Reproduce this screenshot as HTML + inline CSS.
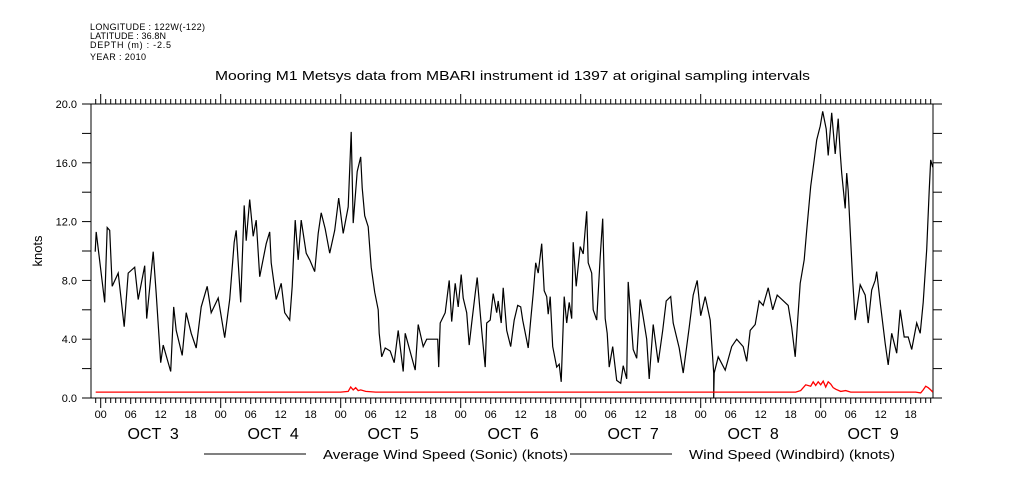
<!DOCTYPE html>
<html><head><meta charset="utf-8"><style>
html,body{margin:0;padding:0;background:#fff;}
svg{display:block;font-family:"Liberation Sans",sans-serif;}
</style></head><body>
<svg id="chart" width="1009" height="504" viewBox="0 0 1009 504" xmlns="http://www.w3.org/2000/svg">
<rect width="1009" height="504" fill="#fff"/>
<g font-size="9" fill="#000">
<text x="90" y="30" textLength="115">LONGITUDE : 122W(-122)</text>
<text x="90" y="39" textLength="76">LATITUDE : 36.8N</text>
<text x="90" y="48" textLength="81">DEPTH (m) : -2.5</text>
<text x="90" y="60" textLength="56">YEAR : 2010</text>
</g>
<text x="215" y="80" textLength="595" lengthAdjust="spacingAndGlyphs" font-size="13">Mooring M1 Metsys data from MBARI instrument id 1397 at original sampling intervals</text>
<text transform="translate(42,251) rotate(-90)" text-anchor="middle" font-size="13">knots</text>
<g id="axes"></g>
<g id="series"></g>
<g font-size="13">
<line x1="204" y1="454" x2="306" y2="454" stroke="#000"/>
<text x="323" y="459" textLength="245" lengthAdjust="spacingAndGlyphs">Average Wind Speed (Sonic) (knots)</text>
<line x1="570" y1="454" x2="672" y2="454" stroke="#000"/>
<text x="689" y="459" textLength="206" lengthAdjust="spacingAndGlyphs">Wind Speed (Windbird) (knots)</text>
</g>
</svg>
<script>
const sonicHours=[-1.1,-0.9,0.8,1.3,1.8,2.3,3.5,4.7,5.5,6.8,7.5,8.8,9.2,10.5,11.1,12.0,12.5,14.0,14.6,15.1,16.3,17.1,18.1,19.1,20.1,21.3,22.1,23.5,24.8,25.8,26.7,27.1,28.0,28.7,29.1,29.8,30.5,31.1,31.8,33.1,33.8,34.1,35.1,36.1,36.8,37.8,38.3,38.9,39.5,40.1,41.1,41.8,42.8,43.5,44.1,44.9,45.8,46.8,47.6,48.5,49.5,50.1,50.5,51.3,52.0,52.3,52.8,53.5,54.1,54.8,55.5,55.7,56.2,56.9,57.9,58.7,59.5,60.5,60.9,62.9,63.5,64.5,65.2,67.4,67.6,67.9,68.9,69.7,70.2,70.9,71.5,72.1,72.5,73.2,73.7,74.2,74.9,75.3,76.2,76.9,77.2,77.9,78.5,79.2,79.5,80.1,80.5,81.2,82.0,82.7,83.4,84.0,84.4,85.1,85.5,86.0,86.5,87.0,87.5,88.2,88.7,89.2,89.5,89.9,90.4,91.2,91.7,92.1,92.7,93.2,93.7,94.2,94.5,95.1,95.9,96.5,97.2,97.5,98.2,98.5,99.2,99.9,100.4,100.9,101.3,101.7,102.4,103.2,104.0,104.5,105.2,105.5,106.5,107.2,107.9,108.5,109.2,109.7,110.5,111.5,112.4,113.1,114.0,114.5,115.7,116.5,117.7,118.5,119.3,120.0,120.9,121.9,122.6,122.6,122.7,123.5,124.9,126.2,127.2,128.5,129.2,129.9,130.9,131.7,132.5,133.5,134.4,135.3,137.5,138.2,138.9,139.9,140.7,141.2,142.0,142.7,143.2,143.9,144.4,145.1,145.5,146.2,146.9,147.5,147.9,148.2,148.9,149.2,149.5,150.0,150.4,150.9,151.9,152.9,153.5,154.2,154.9,155.2,155.9,156.9,157.5,158.2,159.2,159.9,160.7,161.5,162.2,163.2,163.9,164.5,165.2,165.7,166.0,166.4];
const sonicValues=[9.95,11.3,6.5,11.6,11.4,7.6,8.5,4.85,8.5,8.9,6.7,9.0,5.4,9.95,7.1,2.4,3.6,1.8,6.2,4.6,2.9,5.8,4.4,3.4,6.2,7.6,5.8,6.8,4.1,6.7,10.6,11.4,6.5,13.1,10.7,13.5,11.0,12.1,8.25,10.5,11.3,9.2,6.7,7.8,5.8,5.3,7.6,12.1,9.4,12.1,9.85,9.4,8.6,11.2,12.6,11.5,9.85,11.4,13.6,11.2,13.0,18.1,11.9,15.4,16.4,14.3,12.4,11.65,8.9,7.2,6.0,4.4,2.8,3.4,3.2,2.4,4.6,1.8,4.4,1.9,5.0,3.5,4.0,4.0,2.1,5.1,5.8,8.0,5.2,7.8,6.2,8.4,6.8,5.8,3.6,5.1,7.1,8.2,4.6,2.1,5.1,5.3,7.1,5.8,6.6,5.1,7.5,4.6,3.5,5.3,6.3,6.2,5.3,4.1,3.4,5.3,7.1,9.2,8.5,10.5,7.3,6.9,5.7,6.9,3.5,2.1,2.3,1.1,6.9,5.1,6.5,5.4,10.6,7.6,10.3,9.8,12.7,9.2,8.5,6.0,5.3,9.6,12.2,5.4,4.4,2.1,3.5,1.2,1.0,2.2,1.3,7.9,3.3,2.7,6.7,5.5,4.0,1.3,5.0,2.4,4.6,6.6,6.9,5.1,3.4,1.7,4.8,7.0,8.0,5.6,6.9,5.3,1.7,0.0,1.7,2.8,1.9,3.5,4.0,3.5,2.5,4.6,5.0,6.6,6.3,7.5,6.0,7.0,6.3,4.8,2.8,7.8,9.4,11.4,14.4,16.2,17.55,18.5,19.5,18.3,16.5,19.4,16.6,19.0,16.7,15.3,12.9,15.3,14.1,10.7,8.0,5.3,7.7,7.0,5.1,7.35,8.0,8.6,6.5,3.7,2.25,4.4,3.05,6.0,4.15,4.15,3.3,5.1,4.4,6.5,10.1,14.1,16.2,15.7,14.1];
const windbirdHours=[-1,10,20,30,40,48,49.5,50,50.5,51,51.5,52,53,55,70,90,110,130,139,140,141,142,142.5,143,143.5,144,144.5,145,145.5,146,146.5,147,148,149,150,158,163,164,164.5,165,165.5,166,166.4];
const windbirdValues=[0.4,0.4,0.4,0.4,0.4,0.4,0.45,0.75,0.55,0.7,0.5,0.55,0.45,0.4,0.4,0.4,0.4,0.4,0.4,0.5,0.9,0.8,1.1,0.85,1.1,0.9,1.15,0.75,1.1,0.95,0.7,0.6,0.45,0.5,0.4,0.4,0.4,0.35,0.55,0.8,0.7,0.55,0.4];
const yTicks=[0,2,4,6,8,10,12,14,16,18,20];
const yLabels=["0.0","4.0","8.0","12.0","16.0","20.0"];
const hourLabels=["00","06","12","18"];
const dayLabels=["OCT  3","OCT  4","OCT  5","OCT  6","OCT  7","OCT  8","OCT  9"];

const NS="http://www.w3.org/2000/svg";
const L=91,R=933,T=104,B=398,X0=100.7,PXH=5;
const xs=h=>X0+h*PXH;
const ys=v=>B-(B-T)*v/20;
function mk(tag,attrs,parent){const e=document.createElementNS(NS,tag);for(const k in attrs)e.setAttribute(k,attrs[k]);parent.appendChild(e);return e;}
const ax=document.getElementById('axes');
const frame=mk('rect',{x:L,y:T,width:R-L,height:B-T,fill:'none',stroke:'#000','stroke-width':1},ax);


yTicks.forEach(v=>{
  const lt=mk('line',{x1:L-9,x2:L,y1:ys(v),y2:ys(v),stroke:'#000'},ax);
  
  
  const rt=mk('line',{x1:R,x2:R+9,y1:ys(v),y2:ys(v),stroke:'#000'},ax);
  
  
});
yLabels.forEach(s=>{
  const t=mk('text',{x:L-14,y:ys(parseFloat(s))+4,'text-anchor':'end','font-size':11},ax);
  t.textContent=s;
  
  
});
for(let h=-1;h<=166;h++){
  const x=xs(h); const major=(h%24===0);
  const tt=mk('line',{x1:x,x2:x,y1:T,y2:T-(major?10:5),stroke:'#000'},ax);
  
  
  const bt=mk('line',{x1:x,x2:x,y1:B,y2:B+(major?10:(h%6===0?6:5)),stroke:'#000'},ax);
  
  
}
dayLabels.forEach((d,i)=>{
  hourLabels.forEach((hl,j)=>{
    const t=mk('text',{x:xs(i*24+j*6),y:418,'text-anchor':'middle','font-size':11},ax);
    t.textContent=hl;
    
    
  });
  const t=mk('text',{x:xs(i*24+10.5),y:439,'text-anchor':'middle','font-size':16},ax);
  t.style.whiteSpace='pre';
  t.textContent=d;
  
  
});
const sg=document.getElementById('series');
const p1=mk('polyline',{points:sonicHours.map((h,i)=>xs(h).toFixed(1)+','+ys(sonicValues[i]).toFixed(1)).join(' '),fill:'none',stroke:'#000','stroke-width':1.2},sg);


const p2=mk('polyline',{points:windbirdHours.map((h,i)=>xs(h).toFixed(1)+','+ys(windbirdValues[i]).toFixed(1)).join(' '),fill:'none',stroke:'#f00','stroke-width':1.3},sg);


</script>
</body></html>
